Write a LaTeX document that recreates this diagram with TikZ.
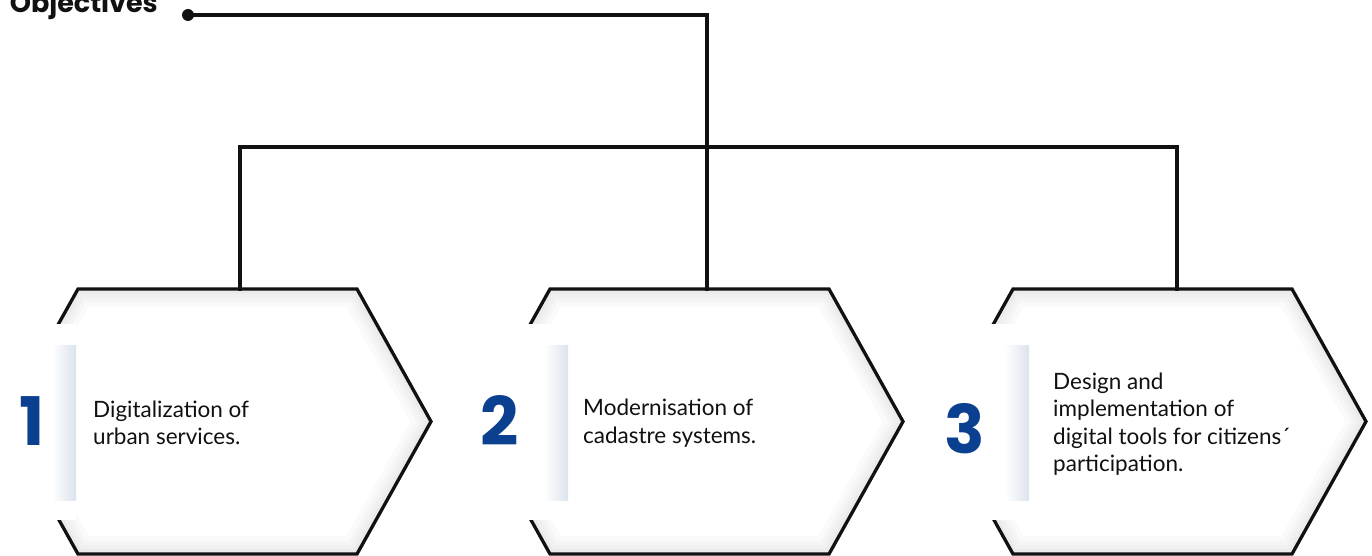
\documentclass[tikz,border=0pt]{standalone}
\usepackage{fontspec}
\setmainfont{Lato}
\newfontfamily\headfont{Poppins}
\usetikzlibrary{calc}
\definecolor{ink}{HTML}{111111}
\definecolor{numblue}{HTML}{0B3F8F}
\definecolor{veil}{HTML}{DCE3EC}
\tikzset{
  link/.style={draw=ink, line width=3.3pt, line cap=rect},
  hexline/.style={draw=ink, line width=3.3pt, line join=miter},
  dot/.style={circle, fill=ink, inner sep=0pt, minimum size=12pt},
  title/.style={font=\headfont\bfseries\fontsize{27}{30}\selectfont, text=ink, inner sep=0pt},
  num/.style={font=\headfont\bfseries\fontsize{67}{72}\selectfont, text=numblue, inner sep=0pt},
  label/.style={font=\fontsize{22.5}{27.3}\selectfont, text=ink, align=left, anchor=west, inner sep=0pt}
}

\begin{document}
\begin{tikzpicture}[x=1pt, y=-1pt]
  \useasboundingbox (0,0) rectangle (1372,556);
  \clip (0,0) rectangle (1372,556);
  \fill[white] (0,0) rectangle (1372,556);

  % boxes: left top corner / end of veil / number x,y / connector x / text x,y / text
  \foreach \i/\L/\W/\nx/\ny/\c/\tx/\ty/\txt in {
      1/78/76/32/421/240/93/423/{Digitalization of\\urban services.},
      2/550/568/500/421/707/583/423/{Modernisation of\\cadastre systems.},
      3/1013/1029/965/429/1177/1053/424/{Design and\\implementation of\\digital tools for citizens´\\participation.}}{
    \coordinate (top\i) at (\c,289);
    % soft inner shadow
    \begin{scope}
      \clip (\L,289) -- (\L+279,289) -- (\L+353,421.5) -- (\L+279,554)
        -- (\L,554) -- (\L-74,421.5) -- cycle;
      \foreach \w in {36,26,18,10}
        \draw[black, opacity=0.018, line width=\w pt]
          (\L,289) -- (\L+279,289) -- (\L+353,421.5) -- (\L+279,554)
          -- (\L,554) -- (\L-74,421.5) -- cycle;
    \end{scope}
    \draw[hexline] (\L,289) -- (\L+279,289) -- (\L+353,421.5) -- (\L+279,554)
      -- (\L,554) -- (\L-74,421.5) -- cycle;
    % white band over the left corner
    \fill[white] (\L-100,324) rectangle (\W,520);
    \shade[left color=white, right color=veil] (\W-24,345) rectangle (\W,500);
    \node[num] (n\i) at (\nx,\ny) {\i};
    \node[label] (t\i) at (\tx,\ty) {\txt};
  }

  \node[title, anchor=base east] (obj) at (158,13) {Objectives};
  \node[dot] (start) at (188,15) {};
  \coordinate (turn) at (707,15);
  \coordinate (hubL) at (240,147);
  \coordinate (hubR) at (1177,147);

  \draw[link] (start.center) -- (turn) -- (top2);
  \draw[link] (hubL) -- (hubR);
  \draw[link] (hubL) -- (top1);
  \draw[link] (hubR) -- (top3);
\end{tikzpicture}
\end{document}
